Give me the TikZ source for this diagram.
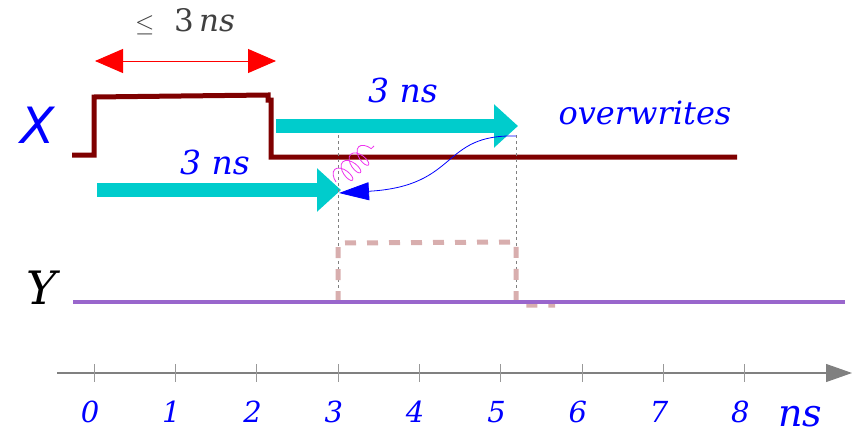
\documentclass[tikz,border=0pt]{standalone}
\usepackage{fontspec}
\setmainfont{DejaVu Serif}
\setsansfont{DejaVu Sans}
\usepackage{tikz}
\usetikzlibrary{arrows.meta,calc,decorations.pathmorphing}
\definecolor{sigx}{HTML}{7F0000}
\definecolor{sigy}{HTML}{9966CC}
\definecolor{delay}{HTML}{00CCCC}
\definecolor{ghost}{HTML}{D8AEAE}
\definecolor{wiggle}{HTML}{EE33EE}
\tikzset{
  lab/.style={text=blue,font=\fontsize{29}{33}\selectfont\itshape,inner sep=0pt},
  delayarrow/.style={line width=14pt,delay,-{Triangle[width=42pt,length=24pt]}},
}

\begin{document}
\begin{tikzpicture}[x=1pt,y=-1pt]
      \useasboundingbox (0,0) rectangle (852,439);
      % time axis
      \coordinate (ax0) at (57,373);
      \coordinate (ax1) at (852,373);
      \draw[gray,line width=1.2pt,-{Triangle[width=18pt,length=26pt]}] (ax0) -- (ax1);
      \foreach \x/\lab in {0/0,1/1,2/2,3/3,4/4,5/5,6/6,7/7,8/8} {
        \draw[gray!80] (94+81.3*\x,364) -- (94+81.3*\x,382);
        \node[lab] (t\x) at (90+81.3*\x,412) {\lab};
      }
      \node[lab,font=\fontsize{38}{44}\selectfont\itshape] (unit) at (800,417) {ns};
      % signal labels
      \node[text=blue,font=\fontsize{50}{56}\selectfont\sffamily\itshape,inner sep=0pt] (sx) at (38,125) {X};
      \node[font=\fontsize{46}{52}\selectfont\itshape,inner sep=0pt] (sy) at (42,288) {Y};
      % signal X
      \draw[sigx,line width=5pt] (72,155) -- (94,155) -- (94,97) -- (268,95) -- (268,100) -- (271,100) -- (271,157) -- (737,157);
      % bound on the pulse width
      \coordinate (wl) at (95,61);
      \coordinate (wr) at (276,61);
      \draw[red,line width=1pt,{Triangle[width=24pt,length=28pt]}-{Triangle[width=24pt,length=28pt]}] (wl) -- (wr);
      \node[text=black!75,font=\fontsize{31}{36}\selectfont,inner sep=0pt] (wd) at (185,22) {$\leq$\ \ 3\,\textit{ns}};
      % delay arrows
      \coordinate (d1a) at (97,190);
      \coordinate (d1b) at (341,190);
      \coordinate (d2a) at (276,126);
      \coordinate (d2b) at (518,126);
      \draw[delayarrow] (d1a) -- (d1b);
      \draw[delayarrow] (d2a) -- (d2b);
      \node[lab,font=\fontsize{33}{38}\selectfont\itshape] (l1) at (215,162) {3 ns};
      \node[lab,font=\fontsize{33}{38}\selectfont\itshape] (l2) at (403,90) {3 ns};
      \node[lab,font=\fontsize{32}{38}\selectfont\itshape] (ow) at (645,113) {overwrites};
      % markers at 3 and 5
      \draw[gray,dashed,line width=0.6pt] (338,135) -- (338,300);
      \draw[gray,dashed,line width=0.6pt] (516,135) -- (516,300);
      \draw[blue,line width=0.8pt,-{Triangle[width=18pt,length=30pt]}] (516,136) .. controls (440,134) and (460,186) .. (339,193);
      \draw[wiggle,line width=0.8pt,decorate,decoration={coil,aspect=0.5,segment length=11pt,amplitude=10pt}] (336,182) -- (374,146);
      % signal Y
      \draw[ghost,line width=5pt,dash pattern=on 11pt off 11pt] (338,302) -- (338,243) -- (516,242) -- (516,302) -- (524,305) -- (555,305);
      \draw[sigy,line width=4.5pt] (73,302) -- (845,302);
    \end{tikzpicture}
\end{document}
